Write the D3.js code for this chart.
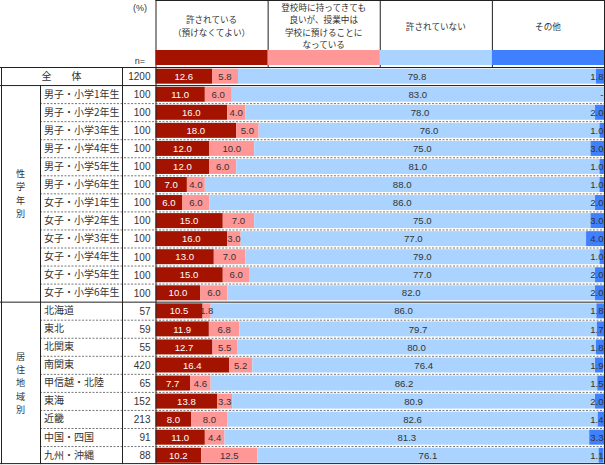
<!DOCTYPE html>
<html>
<head>
<meta charset="utf-8">
<script src="https://cdn.jsdelivr.net/npm/d3@7"></script>
<style>
  body { margin: 0; background: #fff; }
  svg { display: block; }
  text { font-family: "Liberation Sans", "Noto Sans CJK JP", sans-serif; }
  .jp { font-family: "Noto Sans CJK JP", sans-serif; }
</style>
</head>
<body>
<div id="chart"></div>
<script>
(function() {
    // ---- data ----
    const seriesNames = [
        ["許されている", "（預けなくてよい）"],
        ["登校時に持ってきても", "良いが、授業中は", "学校に預けることに", "なっている"],
        ["許されていない"],
        ["その他"]
    ];
    const seriesColors = ["#a31300", "#ff9797", "#aad4ff", "#3f80ff"];

    const rowLabels = ["全体",
        "男子・小学1年生", "男子・小学2年生", "男子・小学3年生", "男子・小学4年生", "男子・小学5年生", "男子・小学6年生",
        "女子・小学1年生", "女子・小学2年生", "女子・小学3年生", "女子・小学4年生", "女子・小学5年生", "女子・小学6年生",
        "北海道", "東北", "北関東", "南関東", "甲信越・北陸", "東海", "近畿", "中国・四国", "九州・沖縄"];
    const nValues = [1200, 100, 100, 100, 100, 100, 100, 100, 100, 100, 100, 100, 100,
        57, 59, 55, 420, 65, 152, 213, 91, 88];
    const allowed = [12.6, 11.0, 16.0, 18.0, 12.0, 12.0, 7.0, 6.0, 15.0, 16.0, 13.0, 15.0, 10.0,
        10.5, 11.9, 12.7, 16.4, 7.7, 13.8, 8.0, 11.0, 10.2];
    const depositInClass = [5.8, 6.0, 4.0, 5.0, 10.0, 6.0, 4.0, 6.0, 7.0, 3.0, 7.0, 6.0, 6.0,
        1.8, 6.8, 5.5, 5.2, 4.6, 3.3, 8.0, 4.4, 12.5];
    const notAllowed = [79.8, 83.0, 78.0, 76.0, 75.0, 81.0, 88.0, 86.0, 75.0, 77.0, 79.0, 77.0, 82.0,
        86.0, 79.7, 80.0, 76.4, 86.2, 80.9, 82.6, 81.3, 76.1];
    const other = [1.8, 0, 2.0, 1.0, 3.0, 1.0, 1.0, 2.0, 3.0, 4.0, 1.0, 2.0, 2.0,
        1.8, 1.7, 1.8, 1.9, 1.5, 2.0, 1.4, 3.3, 1.1];
    const groups = [
        { label: "性学年別", from: 1, to: 12 },
        { label: "居住地域別", from: 13, to: 21 }
    ];

    const width = 605, height = 465;
    const xLeft = 1, xGroup = 40, xN = 122, xBar = 155.5, xRight = 604;
    const tableTop = 67, rowH = 18.05;

    const svg = d3.select("#chart").append("svg")
        .attr("width", width)
        .attr("height", height);

    const x = d3.scaleLinear().domain([0, 100]).range([xBar, xRight]);
    const y = d3.scaleBand()
        .domain(d3.range(rowLabels.length))
        .range([tableTop, tableTop + rowH * rowLabels.length]);
    const tableBottom = tableTop + rowH * rowLabels.length - 1;

    const rows = rowLabels.map((label, i) => {
        const vals = [allowed[i], depositInClass[i], notAllowed[i], other[i]];
        let acc = 0;
        const segs = vals.map((v, k) => {
            const s = { k: k, v: v, x0: acc, x1: acc + v, i: i };
            acc += v;
            return s;
        });
        return { label: label, n: nValues[i], segs: segs, i: i };
    });

    // header columns
    const colW = (xRight - xBar) / 4;
    const header = svg.append("g");
    header.append("line")
        .attr("x1", xBar).attr("x2", xRight)
        .attr("y1", 0.5).attr("y2", 0.5)
        .attr("stroke", "#222");
    header.selectAll(".hdiv")
        .data(d3.range(5))
        .enter()
        .append("line")
        .attr("x1", k => xBar + k * colW + 0.5)
        .attr("x2", k => xBar + k * colW + 0.5)
        .attr("y1", 0).attr("y2", tableTop)
        .attr("stroke", "#222");
    header.selectAll(".swatch")
        .data(seriesColors)
        .enter()
        .append("rect")
        .attr("x", (c, k) => xBar + k * colW)
        .attr("y", 50)
        .attr("width", colW)
        .attr("height", 15)
        .attr("fill", c => c);
    seriesNames.forEach((lines, k) => {
        const cx = xBar + (k + 0.5) * colW;
        const lh = 12.5;
        const y0 = 26.5 - (lines.length - 1) * lh / 2;
        header.append("g")
            .attr("text-anchor", "middle")
            .attr("font-size", 8.6)
            .attr("fill", "#333")
            .selectAll("text")
            .data(lines)
            .enter()
            .append("text")
            .attr("class", "jp")
            .attr("x", cx)
            .attr("y", (d, j) => y0 + j * lh + 3.1)
            .text(d => d);
    });
    header.append("text")
        .attr("x", 140).attr("y", 11)
        .attr("text-anchor", "middle")
        .attr("font-size", 9)
        .attr("fill", "#333")
        .text("(%)");
    header.append("text")
        .attr("x", 140).attr("y", 64)
        .attr("text-anchor", "middle")
        .attr("font-size", 9)
        .attr("fill", "#333")
        .text("n=");

    // bars
    const barG = svg.append("g");
    barG.selectAll("g")
        .data(rows)
        .enter()
        .append("g")
        .selectAll("rect")
        .data(r => r.segs)
        .enter()
        .append("rect")
        .attr("x", s => x(s.x0))
        .attr("width", s => Math.max(0, Math.min(x(s.x1), xRight) - x(s.x0)))
        .attr("y", s => y(s.i) + 1.7)
        .attr("height", 15)
        .attr("fill", s => seriesColors[s.k]);

    // bar value labels
    const labelG = svg.append("g");
    rows.forEach(r => {
        r.segs.forEach(s => {
            const last = s.k === 3;
            labelG.append("text")
                .attr("x", last ? xRight - 0.5 : (x(s.x0) + x(s.x1)) / 2)
                .attr("y", y(s.i) + 12.8)
                .attr("text-anchor", last ? "end" : "middle")
                .attr("font-size", 9.6)
                .attr("fill", s.k === 0 ? "#fff" : "#333")
                .text(s.v === 0 ? "-" : s.v.toFixed(1));
        });
    });

    // grid lines
    const grid = svg.append("g");
    // dashed separators between sub rows
    groups.forEach(g => {
        d3.range(g.from + 1, g.to + 1).forEach(i => {
            grid.append("line")
                .attr("x1", xGroup).attr("x2", xRight)
                .attr("y1", y(i) + 0.5).attr("y2", y(i) + 0.5)
                .attr("stroke", "#777")
                .attr("stroke-dasharray", "2,1.5");
        });
    });
    // solid separators
    [tableTop, y(1), y(13), tableBottom].forEach(yy => {
        grid.append("line")
            .attr("x1", 0).attr("x2", xRight + 1)
            .attr("y1", yy + 0.5).attr("y2", yy + 0.5)
            .attr("stroke", "#222");
    });
    // verticals
    [[xLeft, tableTop], [xGroup, y(1)], [xN, tableTop], [xBar, tableTop], [xRight, tableTop]].forEach(v => {
        grid.append("line")
            .attr("x1", v[0] + 0.5).attr("x2", v[0] + 0.5)
            .attr("y1", v[1]).attr("y2", tableBottom + 1)
            .attr("stroke", "#222");
    });

    // row labels
    const lab = svg.append("g").attr("font-size", 10).attr("fill", "#333");
    lab.append("text")
        .attr("class", "jp")
        .attr("x", (xLeft + xN) / 2)
        .attr("y", y(0) + 12.5)
        .attr("text-anchor", "middle")
        .attr("xml:space", "preserve")
        .text("全　　体");
    rows.slice(1).forEach(r => {
        lab.append("text")
            .attr("class", "jp")
            .attr("x", xGroup + 4)
            .attr("y", y(r.i) + 12.5)
            .text(r.label);
    });
    rows.forEach(r => {
        lab.append("text")
            .attr("x", xBar - 5)
            .attr("y", y(r.i) + 13)
            .attr("text-anchor", "end")
            .text(r.n);
    });
    // vertical group labels
    groups.forEach(g => {
        const chars = g.label.split("");
        const cy = (y(g.from) + y(g.to) + rowH) / 2;
        const step = 13.3;
        lab.append("g")
            .selectAll("text")
            .data(chars)
            .enter()
            .append("text")
            .attr("class", "jp")
            .attr("font-size", 9.1)
            .attr("x", (xLeft + xGroup) / 2)
            .attr("y", (c, j) => cy + (j - (chars.length - 1) / 2) * step + 3.5)
            .attr("text-anchor", "middle")
            .text(c => c);
    });
})();
</script>
</body>
</html>
